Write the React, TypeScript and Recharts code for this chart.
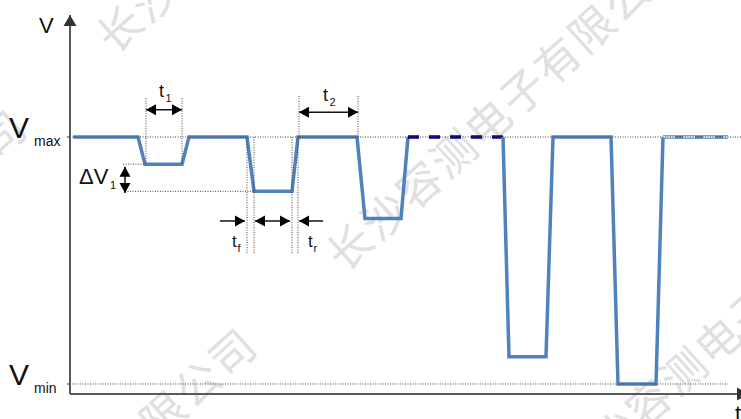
import { ComposedChart, Line, XAxis, YAxis, ReferenceLine, ReferenceDot } from "recharts";

// time in px-like units from the V axis, voltage in % (Vmin = 0, Vmax = 100)
const firstTimes = [3, 68, 75, 112, 119, 177, 184, 222, 228, 287, 295, 331, 338];
const firstVolts = [100, 100, 89, 89, 100, 100, 78, 78, 100, 100, 67, 67, 100];
const holdTimes = [338, 433];
const holdVolts = [100, 100];
const secondTimes = [433, 439, 476, 483, 541, 548, 586, 593];
const secondVolts = [100, 11, 11, 100, 100, 0, 0, 100];
const tailTimes = [593, 658];
const tailVolts = [100, 100];

const levelTicks = [0, 100];
const levelNames = ["min", "max"];

const T_RANGE: [number, number] = [0, 671];
const V_RANGE: [number, number] = [-4.05, 150.2];

const FONT = '"Liberation Sans", Arial, sans-serif';
const BLUE = "#4f81bd";

const toPoints = (ts: number[], vs: number[]) => ts.map((t, i) => ({ t, v: vs[i] }));

// dotted helper lines: [t1, v1, t2, v2]
const guides: [number, number, number, number][] = [
  [0, 100, 671, 100],
  [0, 0, 658, 0],
  [76, 89, 76, 116],
  [112, 89, 112, 116],
  [229, 100, 229, 117],
  [288, 100, 288, 117],
  [177, 53, 177, 100],
  [184, 53, 184, 100],
  [222, 53, 222, 100],
  [228, 53, 228, 100],
  [53, 89, 75, 89],
  [55, 78, 184, 78],
];

// measurement arrows: [from t, from v, to t, to v, both ends?]
const arrows: [number, number, number, number, boolean][] = [
  [76, 111, 112, 111, true],
  [229, 110, 288, 110, true],
  [55, 88, 55, 77.3, true],
  [150, 66, 175, 66, false],
  [185, 66, 220, 66, true],
  [253, 66, 229, 66, false],
];

// annotation labels: main text, subscript, anchor t, anchor v, font size
const labels: { main: string; sub: string; t: number; v: number; size: number; subDx: number }[] = [
  { main: "t", sub: "1", t: 89, v: 116.2, size: 18, subDx: 6.5 },
  { main: "t", sub: "2", t: 253, v: 114.5, size: 18, subDx: 6.5 },
  { main: "\u0394V", sub: "1", t: 9, v: 81, size: 22, subDx: 31 },
  { main: "t", sub: "f", t: 162, v: 55.5, size: 17, subDx: 5.5 },
  { main: "t", sub: "r", t: 238, v: 55.5, size: 17, subDx: 5.5 },
];

function head(tx: number, ty: number, fx: number, fy: number, L: number, w: number, fill: string) {
  const dx = tx - fx;
  const dy = ty - fy;
  const len = Math.hypot(dx, dy) || 1;
  const ux = dx / len;
  const uy = dy / len;
  const bx = tx - ux * L;
  const by = ty - uy * L;
  return (
    <polygon
      points={`${tx},${ty} ${bx - uy * w},${by + ux * w} ${bx + uy * w},${by - ux * w}`}
      fill={fill}
    />
  );
}

const arrowShape =
  (both: boolean, color: string, width: number, L: number, w: number, fill: string) => (p: any) => {
    const { x1, y1, x2, y2 } = p;
    return (
      <g>
        <line x1={x1} y1={y1} x2={x2} y2={y2} stroke={color} strokeWidth={width} />
        {both && head(x1, y1, x2, y2, L, w, fill)}
        {head(x2, y2, x1, y1, L, w, fill)}
      </g>
    );
  };

const labelShape = (main: string, sub: string, size: number, subDx: number) => (p: any) => (
  <g fontFamily={FONT} fill="#111">
    <text x={p.cx} y={p.cy} fontSize={size}>
      {main}
    </text>
    <text x={p.cx + subDx} y={p.cy + 5} fontSize={11}>
      {sub}
    </text>
  </g>
);

function LevelTick(p: any) {
  const name = levelNames[levelTicks.indexOf(p.payload.value)];
  return (
    <g fontFamily={FONT} fill="#111">
      <text x={p.x - 56} y={p.y + 1} fontSize={30}>
        V
      </text>
      <text x={p.x - 31} y={p.y + 9} fontSize={14}>
        {name}
      </text>
    </g>
  );
}

// faint diagonal company watermark behind the chart
const WM_TEXT = "长沙容测电子有限公司";
const WM_ROWS = [
  { x: 118, y: 27 },
  { x: 348, y: 245 },
  { x: 578, y: 463 },
];

function Watermark() {
  const a = (42 * Math.PI) / 180;
  const ux = Math.cos(a);
  const uy = -Math.sin(a);
  const step = 46.5;
  const period = 12.4;
  const chars: any[] = [];
  WM_ROWS.forEach((o, r) => {
    for (let n = -2; n <= 1; n++) {
      for (let k = 0; k < WM_TEXT.length; k++) {
        const s = (k + n * period) * step;
        const x = o.x + s * ux;
        const y = o.y + s * uy;
        if (x < -50 || x > 791 || y < -50 || y > 469) continue;
        chars.push(
          <text
            key={`${r}-${n}-${k}`}
            x={x}
            y={y}
            textAnchor="middle"
            dominantBaseline="central"
            transform={`rotate(-42 ${x} ${y})`}
            fontSize={44}
            fontFamily='"Noto Sans CJK SC", sans-serif'
            fill="#e0e0e0"
          >
            {WM_TEXT[k]}
          </text>
        );
      }
    }
  });
  return (
    <svg width={741} height={419} style={{ position: "absolute", left: 0, top: 0 }}>
      {chars}
    </svg>
  );
}

export default function App() {
  return (
    <div style={{ position: "absolute", left: 0, top: 0, width: 741, height: 419, background: "#fff", overflow: "hidden" }}>
      <Watermark />
      <div style={{ position: "absolute", left: 0, top: 0 }}>
        <ComposedChart
          width={741}
          height={419}
          margin={{ top: 13, right: 0, bottom: 0, left: 0 }}
          style={{ fontFamily: FONT }}
        >
          <XAxis
            type="number"
            dataKey="t"
            domain={T_RANGE}
            allowDataOverflow
            height={25}
            axisLine={false}
            tickLine={false}
            tick={false}
            label={{
              content: (p: any) => (
                <text x={(p.viewBox?.x ?? 70) + (p.viewBox?.width ?? 671) - 6} y={(p.viewBox?.y ?? 394) + 27} fontSize={22} fontFamily={FONT} fill="#111">
                  t
                </text>
              ),
            }}
          />
          <YAxis
            type="number"
            domain={V_RANGE}
            allowDataOverflow
            ticks={levelTicks}
            width={70}
            axisLine={false}
            tickSize={3}
            tickLine={{ stroke: "#333" }}
            tick={<LevelTick />}
            label={{
              content: (p: any) => (
                <text x={(p.viewBox?.x ?? 0) + 39} y={(p.viewBox?.y ?? 13) + 20} fontSize={22} fontFamily={FONT} fill="#111">
                  V
                </text>
              ),
            }}
          />

          <Line data={toPoints(firstTimes, firstVolts)} dataKey="v" type="linear" stroke={BLUE} strokeWidth={3.5} dot={false} activeDot={false} isAnimationActive={false} />
          <Line data={toPoints(holdTimes, holdVolts)} dataKey="v" type="linear" stroke="#000080" strokeWidth={3.5} strokeDasharray="11 10" dot={false} activeDot={false} isAnimationActive={false} />
          <Line data={toPoints(secondTimes, secondVolts)} dataKey="v" type="linear" stroke={BLUE} strokeWidth={3.5} dot={false} activeDot={false} isAnimationActive={false} />
          <Line data={toPoints(tailTimes, tailVolts)} dataKey="v" type="linear" stroke={BLUE} strokeWidth={3.5} dot={false} activeDot={false} isAnimationActive={false} />
          <Line data={toPoints(tailTimes, tailVolts)} dataKey="v" type="linear" stroke="#fff" strokeWidth={1.6} strokeDasharray="12 8" dot={false} activeDot={false} isAnimationActive={false} />

          {guides.map(([t1, v1, t2, v2], i) => (
            <ReferenceLine
              key={`g${i}`}
              segment={[{ x: t1, y: v1 }, { x: t2, y: v2 }]}
              stroke="#444"
              strokeWidth={1}
              strokeDasharray="1 1.5"
              ifOverflow="visible"
            />
          ))}

          {/* axes with arrow heads */}
          <ReferenceLine
            segment={[{ x: 0, y: V_RANGE[0] }, { x: 0, y: 149.4 }]}
            ifOverflow="visible"
            shape={arrowShape(false, "#595959", 2, 11, 6.5, "#333")}
          />
          <ReferenceLine
            segment={[{ x: 0, y: V_RANGE[0] }, { x: 678, y: V_RANGE[0] }]}
            ifOverflow="visible"
            shape={arrowShape(false, "#595959", 2, 11, 6.5, "#333")}
          />

          {arrows.map(([t1, v1, t2, v2, both], i) => (
            <ReferenceLine
              key={`a${i}`}
              segment={[{ x: t1, y: v1 }, { x: t2, y: v2 }]}
              ifOverflow="visible"
              shape={arrowShape(both, "#111", 1.5, 10, 5.5, "#000")}
            />
          ))}

          {labels.map((l, i) => (
            <ReferenceDot key={`l${i}`} x={l.t} y={l.v} ifOverflow="visible" shape={labelShape(l.main, l.sub, l.size, l.subDx)} />
          ))}
        </ComposedChart>
      </div>
    </div>
  );
}
